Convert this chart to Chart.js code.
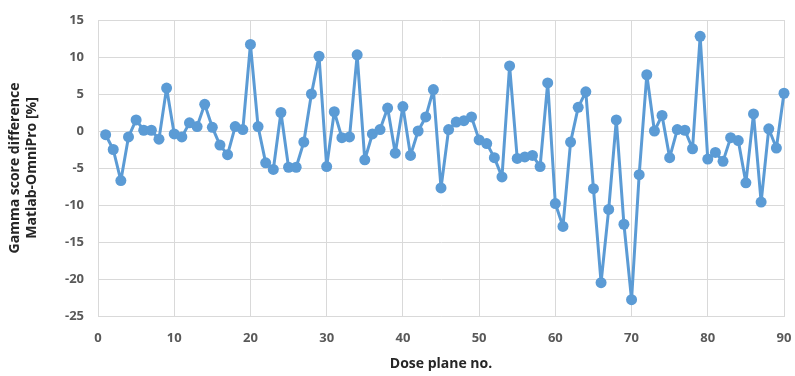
<!DOCTYPE html>
<html>
<head>
<meta charset="utf-8">
<script src="https://cdn.jsdelivr.net/npm/chart.js@4"></script>
<style>
  html, body { margin: 0; padding: 0; background: #fff; }
  #wrap { width: 795px; height: 376px; }
</style>
</head>
<body>
<div id="wrap"><canvas id="chart" width="795" height="376"></canvas></div>
<script>
// Gamma score difference per dose plane (Matlab - OmniPro)

const planes = Array.from({ length: 90 }, (_, i) => i + 1);
const gammaDiff = [
  -0.5, -2.5, -6.7, -0.8, 1.5, 0.1, 0.1, -1.1, 5.8, -0.4,
  -0.8, 1.1, 0.6, 3.6, 0.5, -1.9, -3.2, 0.6, 0.2, 11.7,
  0.6, -4.3, -5.2, 2.5, -4.9, -4.9, -1.5, 5.0, 10.1, -4.8,
  2.6, -0.9, -0.8, 10.3, -3.9, -0.4, 0.2, 3.1, -3.0, 3.3,
  -3.3, 0.0, 1.9, 5.6, -7.7, 0.2, 1.2, 1.4, 1.9, -1.2,
  -1.7, -3.6, -6.2, 8.8, -3.7, -3.5, -3.3, -4.8, 6.5, -9.8,
  -12.9, -1.5, 3.2, 5.3, -7.8, -20.5, -10.6, 1.5, -12.6, -22.8,
  -5.9, 7.6, 0.0, 2.1, -3.6, 0.2, 0.1, -2.4, 12.8, -3.8,
  -2.9, -4.1, -0.9, -1.3, -7.0, 2.3, -9.6, 0.3, -2.3, 5.1
];
const yTitle = ['Gamma score difference', 'Matlab-OmniPro [%]'];
const xTitle = 'Dose plane no.';

const tickColor = '#595959';
const gridColor = '#d9d9d9';
const fontFamily = '"Open Sans", "DejaVu Sans", sans-serif';

new Chart(document.getElementById('chart'), {
  type: 'line',
  data: {
    datasets: [{
      data: planes.map((p, i) => ({ x: p, y: gammaDiff[i] })),
      borderColor: '#5b9bd5',
      backgroundColor: '#5b9bd5',
      borderWidth: 3,
      borderJoinStyle: 'round',
      pointRadius: 5.5,
      pointBorderWidth: 0,
      tension: 0,
      clip: false,
    }],
  },
  options: {
    responsive: false,
    animation: false,
    layout: { autoPadding: false, padding: { top: 20, right: 11, left: 0, bottom: 0 } },
    plugins: { legend: { display: false }, tooltip: { enabled: false } },
    scales: {
      x: {
        type: 'linear',
        min: 0,
        max: 90,
        ticks: { stepSize: 10, color: tickColor, font: { family: fontFamily, size: 13, weight: 'bold' }, padding: 14 },
        grid: { color: gridColor, drawTicks: false },
        border: { color: gridColor },
        title: { display: true, text: xTitle, color: '#262626', font: { family: fontFamily, size: 14, weight: 'bold' }, padding: { top: 13 } },
        afterFit: (s) => { s.height = 60; s.paddingLeft = 0; s.paddingRight = 0; },
      },
      y: {
        min: -25,
        max: 15,
        ticks: { stepSize: 5, color: tickColor, font: { family: fontFamily, size: 13, weight: 'bold' }, padding: 14 },
        grid: { color: gridColor, drawTicks: false },
        border: { color: gridColor },
        title: { display: true, text: yTitle, color: '#262626', font: { family: fontFamily, size: 14, weight: 'bold' }, padding: { top: 7, bottom: 6 } },
        afterFit: (s) => { s.width = 98; s.paddingTop = 0; s.paddingBottom = 0; },
      },
    },
  },
});
</script>
</body>
</html>
